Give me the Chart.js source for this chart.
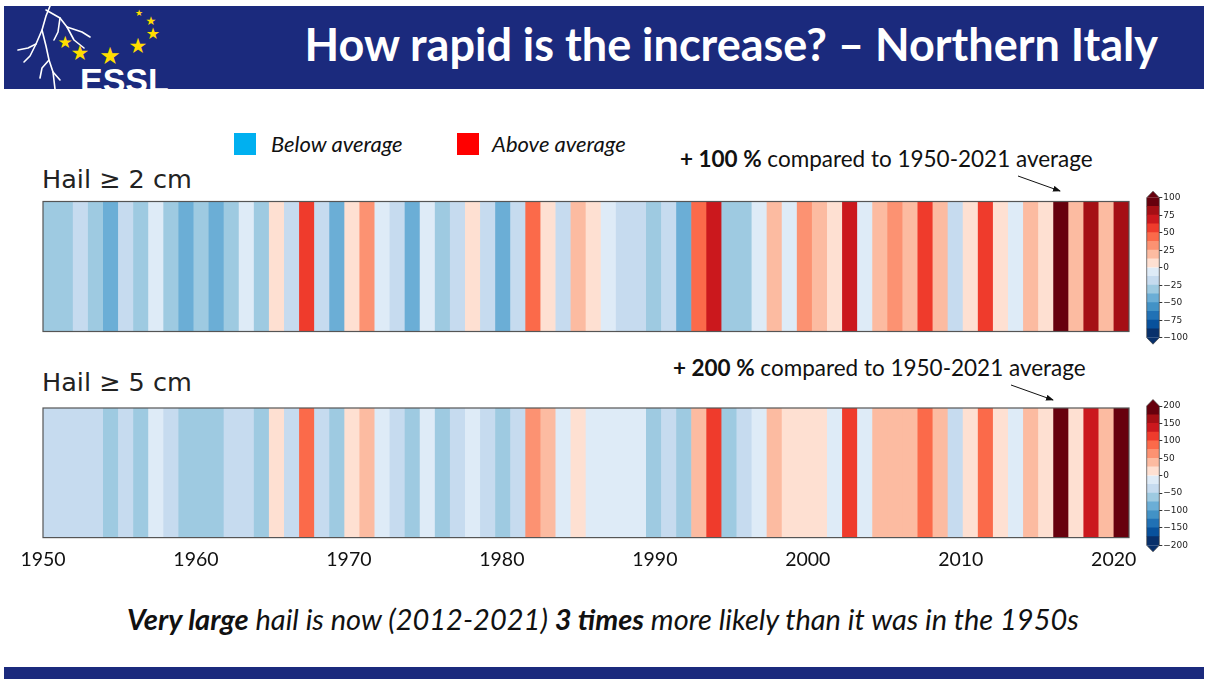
<!DOCTYPE html>
<html>
<head>
<meta charset="utf-8">
<script src="https://cdn.jsdelivr.net/npm/chart.js@4.4.1/dist/chart.umd.min.js"></script>
<style>
  html, body { margin: 0; padding: 0; background: #fff; }
  #page { position: relative; width: 1208px; height: 679px; overflow: hidden; background: #fff; font-family: Lato, "Open Sans", sans-serif; color: #111; }
  .abs { position: absolute; white-space: nowrap; }
  #header { left: 4px; top: 6px; width: 1200px; height: 83px; background: #1b2a7d; overflow: hidden; }
  #title { right: 46px; top: 12px; font-size: 45px; line-height: 52px; font-weight: bold; color: #fff; }
  #essl { left: 76px; top: 54px; font-family: "Liberation Sans", Arial, sans-serif; font-weight: bold; font-size: 34px; line-height: 40px; color: #fff; }
  #footer { left: 4px; top: 667px; width: 1200px; height: 12px; background: #1b2a7d; }
  .sq { width: 22px; height: 22px; }
  .leg { font-style: italic; font-size: 22px; line-height: 26px; }
  .hail { font-family: "DejaVu Sans", sans-serif; font-size: 25.5px; line-height: 30px; color: #222; }
  .note { font-size: 22.5px; line-height: 28px; }
  #caption { left: 0; width: 1206px; text-align: center; top: 602px; font-style: italic; font-size: 29px; line-height: 34px; }
  canvas { position: absolute; }
</style>
</head>
<body>
<div id="page">
  <div id="header" class="abs">
    <svg width="200" height="83" style="position:absolute;left:0;top:0">
      <g stroke="#fff" stroke-width="1.6" fill="none" stroke-linecap="round" stroke-linejoin="round">
        <polyline points="46,0 42,10 38,24 32,38 24,42 14,44"/>
        <polyline points="38,24 42,40 45,54 49,66 51,83"/>
        <polyline points="45,54 38,62 36,72"/>
        <polyline points="32,38 26,50 20,56"/>
        <polyline points="42,4 56,12 63,21 78,26 86,31"/>
        <polyline points="63,21 70,34 80,42"/>
        <polyline points="56,12 54,26 50,34"/>
        <polyline points="49,66 56,74"/>
      </g>
      <g fill="#ffdd00" font-family="DejaVu Sans" text-anchor="middle">
        <text x="61" y="42" font-size="17">★</text>
        <text x="76" y="54" font-size="21">★</text>
        <text x="106" y="58" font-size="24">★</text>
        <text x="134" y="47" font-size="21">★</text>
        <text x="149" y="33" font-size="16">★</text>
        <text x="147" y="19" font-size="12">★</text>
        <text x="135" y="10" font-size="9">★</text>
      </g>
    </svg>
    <div id="essl" class="abs">ESSL</div>
    <div id="title" class="abs">How rapid is the increase? – Northern Italy</div>
  </div>

  <div class="abs sq" style="left:234px;top:133px;background:#00b0f0"></div>
  <div class="abs leg" style="left:271px;top:131px">Below average</div>
  <div class="abs sq" style="left:457px;top:133px;background:#ff0000"></div>
  <div class="abs leg" style="left:492px;top:131px">Above average</div>

  <div class="abs hail" style="left:42px;top:164px">Hail ≥ 2 cm</div>
  <div class="abs hail" style="left:42px;top:367px">Hail ≥ 5 cm</div>

  <div class="abs note" style="left:680px;top:145px"><b>+ 100 %</b> compared to 1950-2021 average</div>
  <div class="abs note" style="left:673px;top:354px"><b>+ 200 %</b> compared to 1950-2021 average</div>

  <svg class="abs" width="1208" height="679" style="left:0;top:0;pointer-events:none">
    <defs>
      <marker id="ah" markerWidth="8" markerHeight="6" refX="7" refY="3" orient="auto" markerUnits="userSpaceOnUse">
        <path d="M0,0 L8,3 L0,6 z" fill="#111"/>
      </marker>
    </defs>
    <line x1="1018" y1="176" x2="1060" y2="191" stroke="#111" stroke-width="1" marker-end="url(#ah)"/>
    <line x1="1011" y1="385" x2="1053" y2="400" stroke="#111" stroke-width="1" marker-end="url(#ah)"/>
  </svg>

  <canvas id="stripes2" width="1140" height="133" style="left:0;top:200px"></canvas>
  <canvas id="stripes5" width="1160" height="186" style="left:0;top:400px"></canvas>
  <canvas id="cbar2" width="68" height="165" style="left:1140px;top:185px"></canvas>
  <canvas id="cbar5" width="68" height="165" style="left:1140px;top:393px"></canvas>

  <div id="caption" class="abs"><b>Very large</b> hail is now (2012-2021) <b>3 times</b> more likely than it was in the 1950s</div>

  <div id="footer" class="abs"></div>
</div>

<script>
// years shown as stripes
const years = [1950, 1951, 1952, 1953, 1954, 1955, 1956, 1957, 1958, 1959,
               1960, 1961, 1962, 1963, 1964, 1965, 1966, 1967, 1968, 1969,
               1970, 1971, 1972, 1973, 1974, 1975, 1976, 1977, 1978, 1979,
               1980, 1981, 1982, 1983, 1984, 1985, 1986, 1987, 1988, 1989,
               1990, 1991, 1992, 1993, 1994, 1995, 1996, 1997, 1998, 1999,
               2000, 2001, 2002, 2003, 2004, 2005, 2006, 2007, 2008, 2009,
               2010, 2011, 2012, 2013, 2014, 2015, 2016, 2017, 2018, 2019,
               2020, 2021];

// anomaly in % vs 1950-2021 average, hail >= 2 cm
const hail2cm = [-31, -31, -19, -31, -44, -19, -31, -6, -31, -44,
                 -31, -44, -31, -6, -31, 6, -19, 56, -19, -44,
                 6, 31, -6, -19, -44, -6, -31, -19, 6, -19,
                 -44, -19, 44, 6, -19, 19, 6, -6, -19, -19,
                 -31, -19, -44, 44, 69, -31, -31, -6, 19, -6,
                 31, 19, 6, 69, -6, 19, 31, 19, 56, 19,
                 -19, 6, 56, 6, -6, 19, 6, 100, 19, 81,
                 19, 81];

// anomaly in % vs 1950-2021 average, hail >= 5 cm
const hail5cm = [-37, -37, -37, -37, -62, -37, -62, -12, -37, -62,
                 -62, -62, -37, -37, -62, 12, -37, 87, -37, -62,
                 12, 37, -12, -37, -62, -12, -62, -37, -12, -37,
                 -62, -37, 62, 37, -12, 12, -12, -12, -12, -12,
                 -62, -37, -62, 37, 112, -62, -37, -12, 37, 12,
                 12, 12, -12, 112, -12, 37, 37, 37, 87, 37,
                 -37, 12, 87, 12, -12, 37, 12, 200, 12, 137,
                 37, 200];

const xTicks = [1950, 1960, 1970, 1980, 1990, 2000, 2010, 2020];
const cbTicks2 = [-100, -75, -50, -25, 0, 25, 50, 75, 100];
const cbTicks5 = [-200, -150, -100, -50, 0, 50, 100, 150, 200];

const palette = ['#08306b', '#08519c', '#2171b5', '#4292c6', '#6baed6', '#9ecae1', '#c6dbef', '#deebf7',
                 '#fee0d2', '#fcbba1', '#fc9272', '#fb6a4a', '#ef3b2c', '#cb181d', '#a50f15', '#67000d'];

function colorFor(v, lim) {
    let i = Math.floor((v + lim) / (lim / 8));
    i = Math.max(0, Math.min(15, i));
    return palette[i];
}

// frame around the stripes
const frame = {
    id: 'frame',
    afterDatasetsDraw(chart) {
        const { ctx, chartArea: a } = chart;
        ctx.save();
        ctx.strokeStyle = '#555';
        ctx.lineWidth = 1.2;
        ctx.strokeRect(a.left, a.top, a.right - a.left, a.bottom - a.top);
        ctx.restore();
    }
};

// triangles at both ends of the colorbar + outline
const cbarEnds = {
    id: 'cbarEnds',
    afterDatasetsDraw(chart) {
        const { ctx, chartArea: a } = chart;
        const mid = (a.left + a.right) / 2, h = 6.5;
        ctx.save();
        ctx.fillStyle = palette[15];
        ctx.beginPath();
        ctx.moveTo(a.left, a.top); ctx.lineTo(mid, a.top - h); ctx.lineTo(a.right, a.top);
        ctx.closePath(); ctx.fill();
        ctx.fillStyle = palette[0];
        ctx.beginPath();
        ctx.moveTo(a.left, a.bottom); ctx.lineTo(mid, a.bottom + h); ctx.lineTo(a.right, a.bottom);
        ctx.closePath(); ctx.fill();
        ctx.strokeStyle = '#444';
        ctx.lineWidth = 0.7;
        ctx.beginPath();
        ctx.moveTo(a.left, a.top); ctx.lineTo(mid, a.top - h); ctx.lineTo(a.right, a.top);
        ctx.lineTo(a.right, a.bottom); ctx.lineTo(mid, a.bottom + h); ctx.lineTo(a.left, a.bottom);
        ctx.closePath(); ctx.stroke();
        ctx.restore();
    }
};

function makeStripes(id, values, lim, showAxis, pad) {
    const scales = {
        x: { display: false },
        y: { display: false, min: 0, max: 1 }
    };
    if (showAxis) {
        scales.xt = {
            type: 'linear', position: 'bottom', min: 1950, max: 2021, offset: false,
            grid: { display: false, drawTicks: false, offset: false },
            border: { display: false },
            afterBuildTicks: ax => { ax.ticks = xTicks.map(v => ({ value: v })); },
            ticks: {
                padding: 10.5, color: '#111', maxRotation: 0, autoSkip: false,
                font: { family: 'Lato', size: 19.5 },
                callback: v => String(v)
            }
        };
    }
    new Chart(document.getElementById(id), {
        type: 'bar',
        data: {
            labels: years,
            datasets: [{
                data: values.map(() => [0, 1]),
                backgroundColor: values.map(v => colorFor(v, lim)),
                borderWidth: 0,
                barPercentage: 1,
                categoryPercentage: 1
            }]
        },
        options: {
            responsive: false,
            animation: false,
            layout: { padding: pad },
            plugins: { legend: { display: false }, tooltip: { enabled: false } },
            scales: scales
        },
        plugins: [frame]
    });
}

function makeColorbar(id, ticks, pad) {
    const lim = ticks[ticks.length - 1];
    const step = lim / 8;
    const datasets = palette.map((c, i) => ({
        data: [[-lim + i * step, -lim + (i + 1) * step]],
        backgroundColor: c,
        borderWidth: 0,
        barPercentage: 1,
        categoryPercentage: 1,
        grouped: false
    }));
    new Chart(document.getElementById(id), {
        type: 'bar',
        data: { labels: [''], datasets: datasets },
        options: {
            responsive: false,
            animation: false,
            layout: { padding: pad },
            plugins: { legend: { display: false }, tooltip: { enabled: false } },
            scales: {
                x: { display: false },
                y: {
                    position: 'right', min: -lim, max: lim,
                    afterBuildTicks: ax => { ax.ticks = ticks.map(v => ({ value: v })); },
                    afterFit: ax => { ax.width = 48.7; },
                    grid: { drawOnChartArea: false, drawTicks: true, tickLength: 3, color: '#333' },
                    border: { display: false },
                    ticks: {
                        padding: 1, color: '#222', autoSkip: false,
                        font: { family: 'DejaVu Sans', size: 9 },
                        callback: v => String(v).replace('-', '\u2212')
                    }
                }
            }
        },
        plugins: [cbarEnds]
    });
}

makeStripes('stripes2', hail2cm, 100, false, { left: 43, right: 11, top: 1.5, bottom: 1.5 });
makeStripes('stripes5', hail5cm, 200, true, { left: 43, right: 31, top: 8, bottom: 4 });
makeColorbar('cbar2', cbTicks2, { left: 6.7, right: 0, top: 12.7, bottom: 12.3 });
makeColorbar('cbar5', cbTicks5, { left: 6.7, right: 0, top: 13, bottom: 12.7 });
</script>
</body>
</html>
